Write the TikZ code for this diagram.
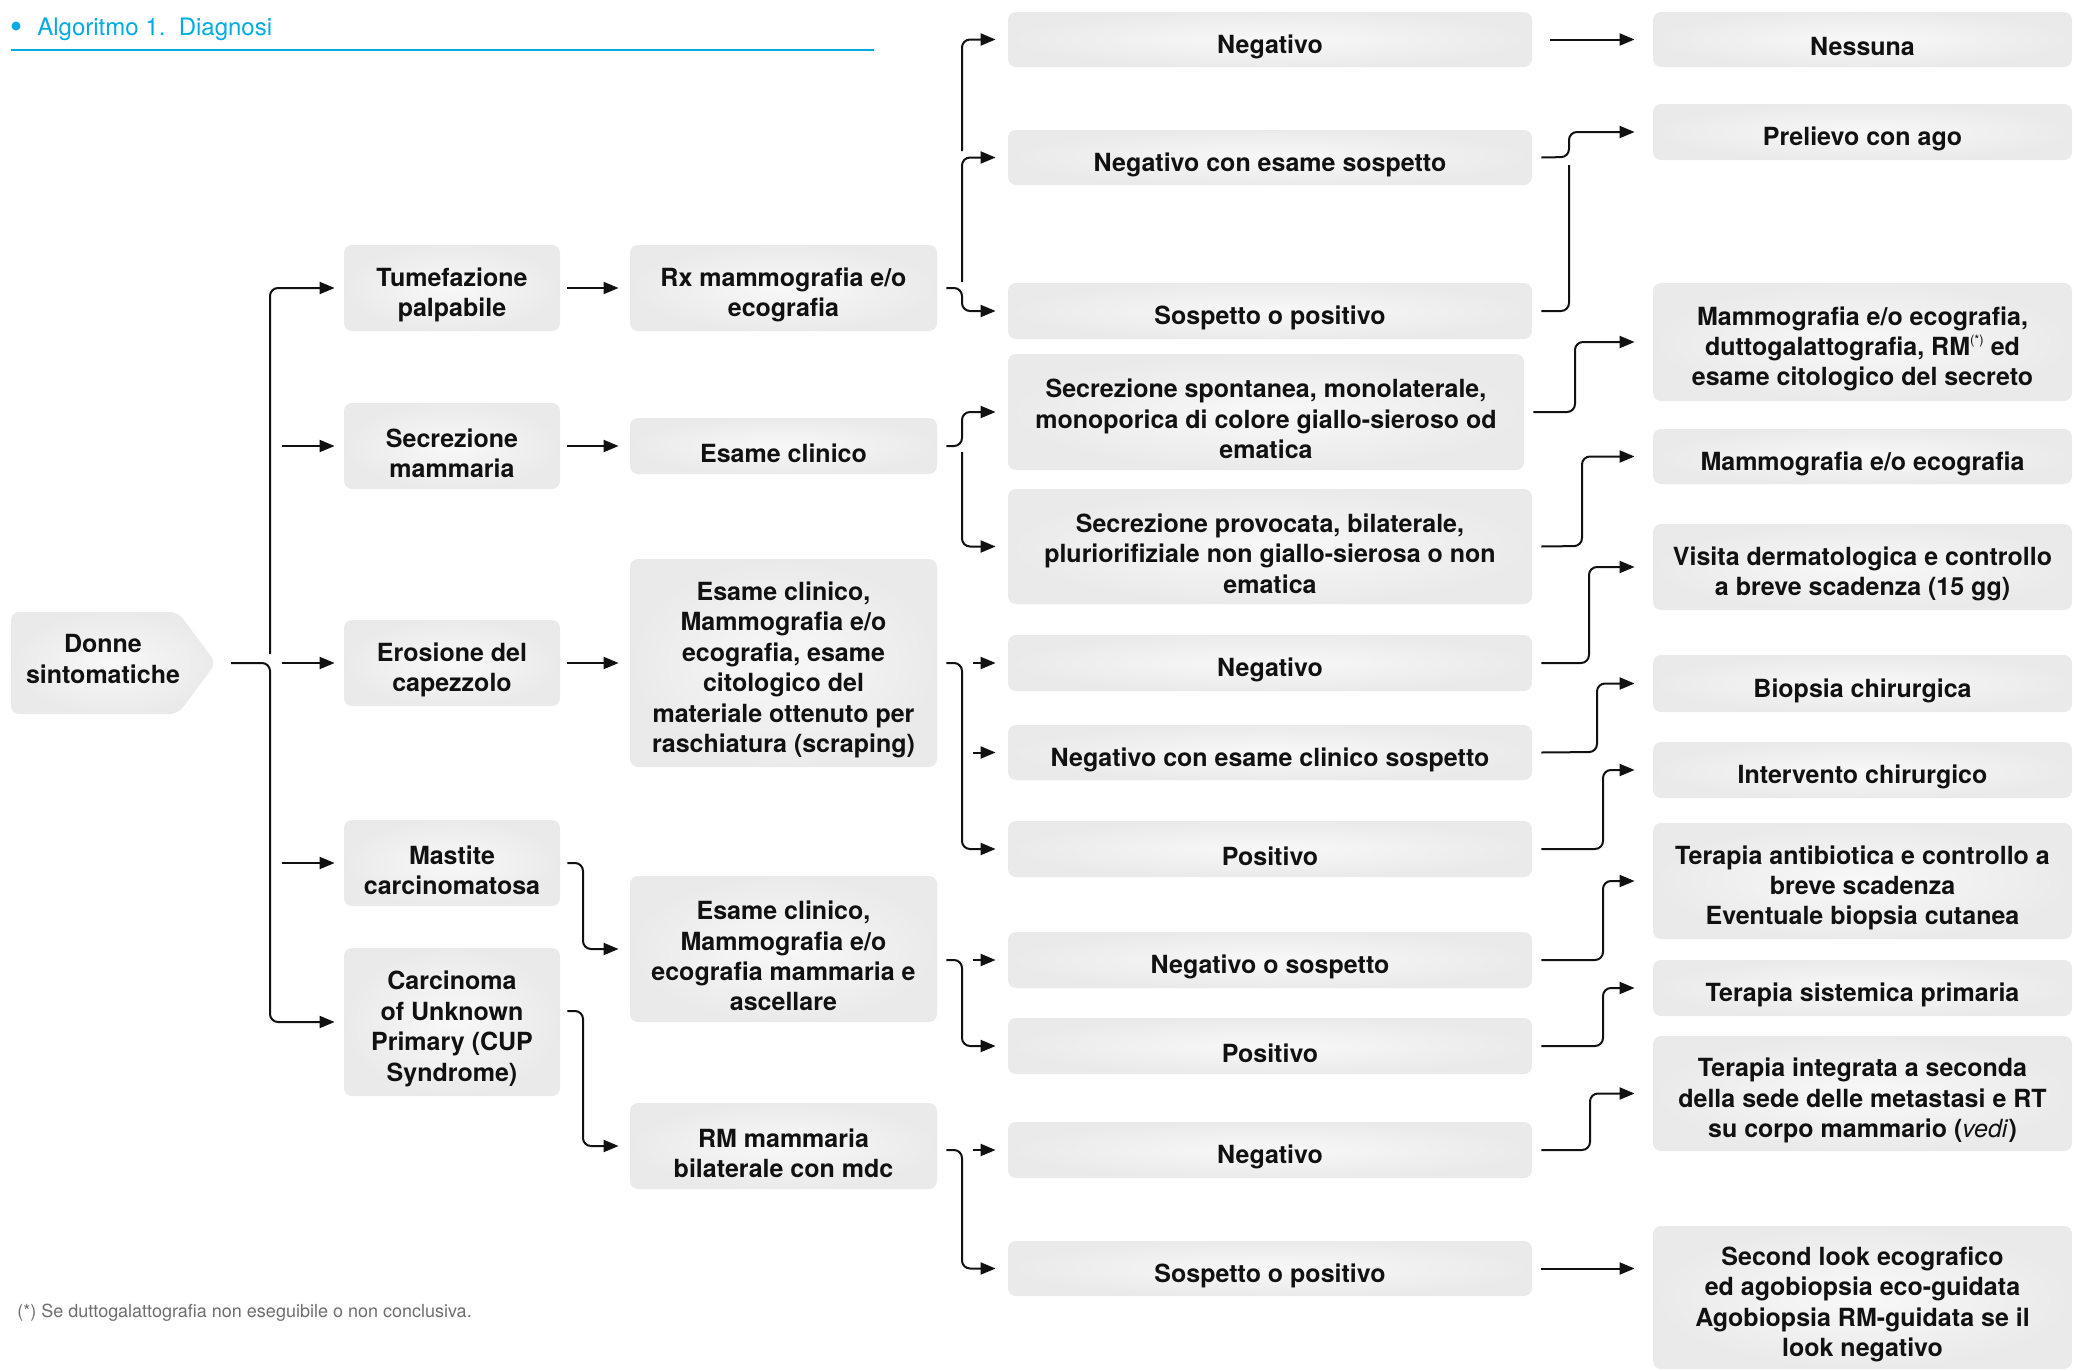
\documentclass[tikz,border=0pt]{standalone}
\usepackage{fontspec}
\setmainfont{TeX Gyre Heros}
\usetikzlibrary{arrows.meta,calc}

\definecolor{boxin}{RGB}{248,248,248}
\definecolor{boxout}{RGB}{234,234,234}
\definecolor{ink}{RGB}{17,17,17}
\definecolor{titlecyan}{RGB}{0,170,226}
\definecolor{notegray}{RGB}{110,110,112}

\tikzset{
  boxtext/.style={align=center, text=ink, inner sep=2pt,
    font=\bfseries\fontsize{12.5}{15.2}\selectfont},
  boxshape/.style={rounded corners=4pt, inner color=boxin, outer color=boxout, inner sep=0pt},
  link/.style={draw=ink, line width=1pt, rounded corners=4pt},
  arr/.style={link, -{Triangle[length=7.5pt,width=6pt]}},
}

% \flowbox{name}{x1}{y1}{x2}{y2}{text}: shaded box given by its corners (px units),
% with its text set a little below the geometric centre
\newcommand\flowbox[6]{%
  \node[boxshape, minimum width={(#4-#2)*0.5pt}, minimum height={(#5-#3)*0.5pt}]
    (#1) at ({(#2+#4)/2},{(#3+#5)/2}) {};
  \node[boxtext] (#1-t) at ([yshift=-3.5pt]#1.center) {#6};}
\newcommand\starnote{\raisebox{0.85ex}{\mdseries\fontsize{6.5}{7}\selectfont(*)}}

\begin{document}
\begin{tikzpicture}[x=0.5pt,y=-0.5pt]
\useasboundingbox (0,0) rectangle (2074,1371);
\fill[white] (0,0) rectangle (2074,1371);

% heading
\fill[titlecyan] (16,26) circle (4.5);
\node[anchor=base west, inner sep=0, text=titlecyan,
      font=\fontsize{12}{14}\selectfont] (title) at (37,35) {Algoritmo 1.\ \ Diagnosi};
\draw[titlecyan, line width=0.8pt] (11,50) -- (874,50);

% starting shape
\shade[inner color=boxin, outer color=boxout, rounded corners=4pt]
  (11,612) -- (178,612) -- (216,663) -- (178,714) -- (11,714) -- cycle;
\node[boxtext] (donne) at (103,659) {Donne\\sintomatiche};
\coordinate (donnetip) at (216,663);

% first column
\flowbox{tum}{344}{245}{560}{331}{Tumefazione\\palpabile}
\flowbox{sec}{344}{403}{560}{489}{Secrezione\\mammaria}
\flowbox{ero}{344}{620}{560}{706}{Erosione del\\capezzolo}
\flowbox{mas}{344}{820}{560}{906}{Mastite\\carcinomatosa}
\flowbox{car}{344}{948}{560}{1096}{Carcinoma\\of Unknown\\Primary (CUP\\Syndrome)}

% second column
\flowbox{rx}{630}{245}{937}{331}{Rx mammografia e/o\\ecografia}
\flowbox{ecl}{630}{418}{937}{474}{Esame clinico}
\flowbox{scr}{630}{559}{937}{767}{Esame clinico,\\Mammografia e/o\\ecografia, esame\\citologico del\\materiale ottenuto per\\raschiatura (scraping)}
\flowbox{asc}{630}{876}{937}{1022}{Esame clinico,\\Mammografia e/o\\ecografia mammaria e\\ascellare}
\flowbox{rm}{630}{1103}{937}{1189}{RM mammaria\\bilaterale con mdc}

% outcomes
\flowbox{negA}{1008}{12}{1532}{67}{Negativo}
\flowbox{nces}{1008}{130}{1532}{185}{Negativo con esame sospetto}
\flowbox{sopA}{1008}{283}{1532}{339}{Sospetto o positivo}
\flowbox{ssp}{1008}{354}{1524}{470}{Secrezione spontanea, monolaterale,\\monoporica di colore giallo-sieroso od\\ematica}
\flowbox{spr}{1008}{489}{1532}{604}{Secrezione provocata, bilaterale,\\pluriorifiziale non giallo-sierosa o non\\ematica}
\flowbox{negB}{1008}{635}{1532}{691}{Negativo}
\flowbox{ncecs}{1008}{725}{1532}{780}{Negativo con esame clinico sospetto}
\flowbox{posA}{1008}{821}{1532}{877}{Positivo}
\flowbox{nos}{1008}{932}{1532}{988}{Negativo o sospetto}
\flowbox{posB}{1008}{1018}{1532}{1074}{Positivo}
\flowbox{negC}{1008}{1122}{1532}{1178}{Negativo}
\flowbox{sopB}{1008}{1241}{1532}{1296}{Sospetto o positivo}

% actions
\flowbox{nes}{1653}{12}{2072}{67}{Nessuna}
\flowbox{pre}{1653}{104}{2072}{160}{Prelievo con ago}
\flowbox{mdu}{1653}{283}{2072}{401}{Mammografia e/o ecografia,\\duttogalattografia, RM\starnote{} ed\\esame citologico del secreto}
\flowbox{mec}{1653}{429}{2072}{484}{Mammografia e/o ecografia}
\flowbox{vis}{1653}{524}{2072}{610}{Visita dermatologica e controllo\\a breve scadenza (15 gg)}
\flowbox{bio}{1653}{655}{2072}{712}{Biopsia chirurgica}
\flowbox{int}{1653}{742}{2072}{798}{Intervento chirurgico}
\flowbox{tan}{1653}{823}{2072}{939}{Terapia antibiotica e controllo a\\breve scadenza\\Eventuale biopsia cutanea}
\flowbox{tsp}{1653}{960}{2072}{1016}{Terapia sistemica primaria}
\flowbox{tin}{1653}{1036}{2072}{1151}{Terapia integrata a seconda\\della sede delle metastasi e RT\\su corpo mammario (\textmd{\textit{vedi}})}
\flowbox{slk}{1653}{1226}{2072}{1369}{Second look ecografico\\ed agobiopsia eco-guidata\\Agobiopsia RM-guidata se il\\look negativo}

% footnote
\node[anchor=base west, inner sep=0, text=notegray,
      font=\fontsize{9}{11}\selectfont] (note) at (17,1317)
  {(*) Se duttogalattografia non eseguibile o non conclusiva.};

% ---- connectors: start shape to first column
\draw[arr] ([xshift=7.5pt]donnetip) -- (270,663) |- ([xshift=-4.5pt]car.west);
\draw[arr] (270,654) |- ([xshift=-4.5pt]tum.west);
\draw[arr] ([xshift=-31pt]sec.west) -- ([xshift=-4.5pt]sec.west);
\draw[arr] ([xshift=-31pt]ero.west) -- ([xshift=-4.5pt]ero.west);
\draw[arr] ([xshift=-31pt]mas.west) -- ([xshift=-4.5pt]mas.west);

% ---- first to second column
\draw[arr] ([xshift=3.5pt]tum.east) -- ([xshift=-5.5pt]rx.west);
\draw[arr] ([xshift=3.5pt]sec.east) -- ([xshift=-5.5pt]ecl.west);
\draw[arr] ([xshift=3.5pt]ero.east) -- ([xshift=-5.5pt]scr.west);
\draw[arr] ([xshift=3.5pt]mas.east) -- (583,863) |- ([xshift=-5.5pt]asc.west);
\draw[arr] ([xshift=3.5pt,yshift=5.5pt]car.east) -- (583,1011) |- ([xshift=-5.5pt]rm.west);

% ---- second column to outcomes
\draw[arr] ([xshift=4.5pt]rx.east) -- (962,288) |- ([xshift=-6pt]sopA.west);
\draw[arr] (962,282) |- ([xshift=-6pt]nces.west);
\draw[arr] (962,151) |- ([xshift=-6pt]negA.west);

\draw[arr] ([xshift=4.5pt]ecl.east) -- (962,446) |- ([xshift=-6pt]ssp.west);
\draw[arr] (962,452) |- ([xshift=-6pt]spr.west);

\draw[arr] ([xshift=4.5pt]scr.east) -- (962,663) |- ([xshift=-6pt]posA.west);
\draw[arr] ([xshift=-17.5pt]negB.west) -- ([xshift=-6pt]negB.west);
\draw[arr] ([xshift=-17.5pt]ncecs.west) -- ([xshift=-6pt]ncecs.west);

\draw[arr] ($(asc.east |- nos.west)+(9,0)$) -- (962,960) |- ([xshift=-6pt]posB.west);
\draw[arr] ([xshift=-17.5pt]nos.west) -- ([xshift=-6pt]nos.west);

\draw[arr] ($(rm.east |- negC.west)+(9,0)$) -- (962,1150) |- ([xshift=-6pt]sopB.west);
\draw[arr] ([xshift=-17.5pt]negC.west) -- ([xshift=-6pt]negC.west);

% ---- outcomes to actions
\draw[arr] ([xshift=9pt]negA.east) -- ([xshift=-9pt]nes.west);
\draw[arr] ([xshift=4.5pt]nces.east) -- (1569,157) |- ([xshift=-9pt]pre.west);
\draw[link] ([xshift=4.5pt]sopA.east) -| (1569,165);
\draw[arr] ([xshift=4.5pt]ssp.east) -- (1575,412) |- ([xshift=-9pt]mdu.west);
\draw[arr] ([xshift=4.5pt]spr.east) -- (1582,546) |- ([xshift=-9pt]mec.west);
\draw[arr] ([xshift=4.5pt]negB.east) -- (1589,663) |- ([xshift=-9pt]vis.west);
\draw[arr] ([xshift=4.5pt]ncecs.east) -- (1597,752) |- ([xshift=-9pt]bio.west);
\draw[arr] ([xshift=4.5pt]posA.east) -- (1603,849) |- ([xshift=-9pt]int.west);
\draw[arr] ([xshift=4.5pt]nos.east) -- (1603,960) |- ([xshift=-9pt]tan.west);
\draw[arr] ([xshift=4.5pt]posB.east) -- (1603,1046) |- ([xshift=-9pt]tsp.west);
\draw[arr] ([xshift=4.5pt]negC.east) -- (1590,1150) |- ([xshift=-9pt]tin.west);
\draw[arr] ([xshift=4.5pt]sopB.east) -- ($(slk.west |- sopB.east)+(-18,0)$);
\end{tikzpicture}
\end{document}
